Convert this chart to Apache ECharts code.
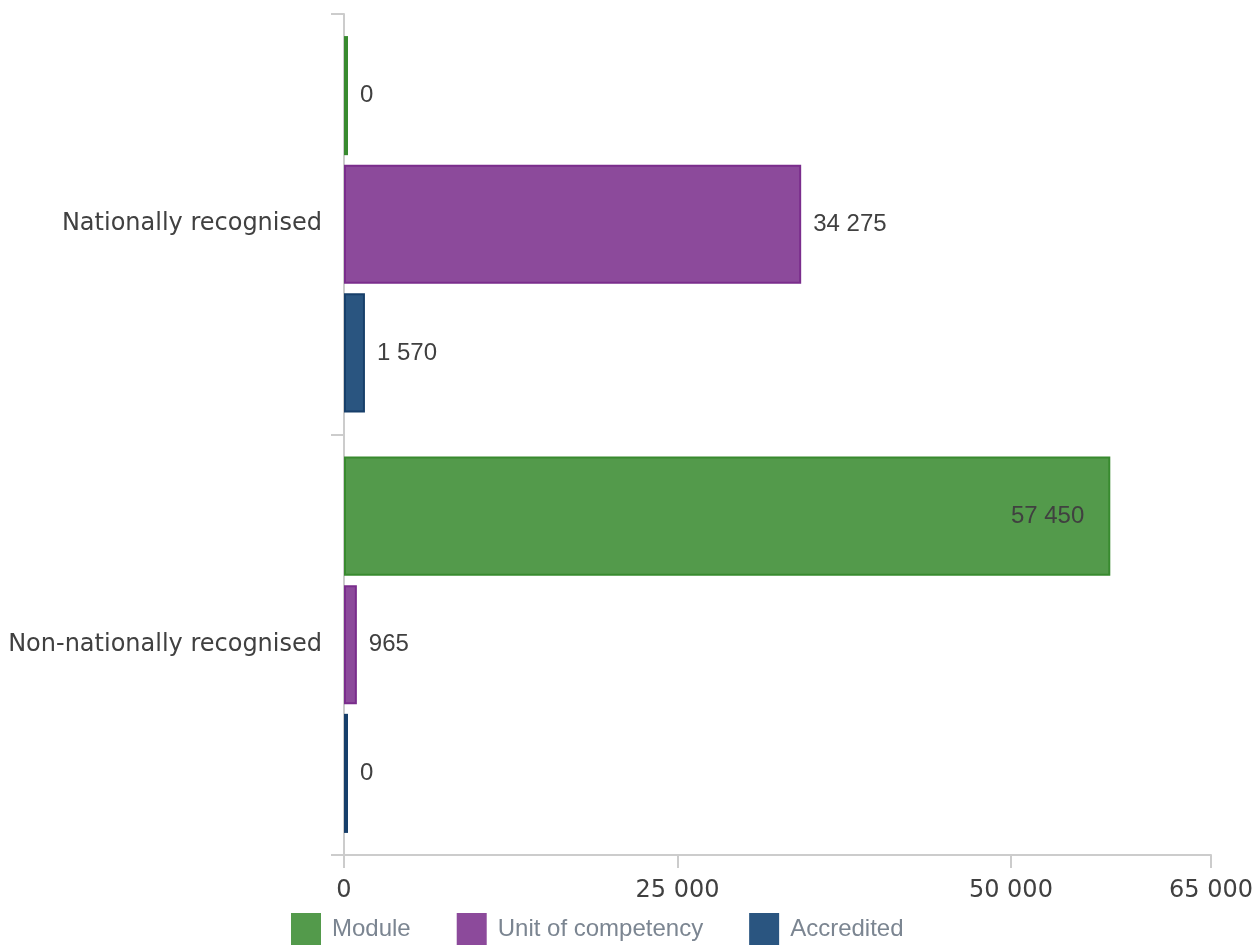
<!DOCTYPE html>
<html>
<head>
<meta charset="utf-8">
<script src="https://cdn.jsdelivr.net/npm/echarts@6/dist/echarts.min.js"></script>
<style>
html,body{margin:0;padding:0;background:#fff;}
#chart{width:1258px;height:945px;}
</style>
</head>
<body>
<div id="chart"></div>
<script>
const categories = ['Nationally recognised', 'Non-nationally recognised'];
const seriesNames = ['Module', 'Unit of competency', 'Accredited'];
const moduleValues = [0, 57450];
const unitValues = [34275, 965];
const accreditedValues = [1570, 0];
const xTicks = [0, 25000, 50000, 65000];

const fills = ['#539a4b', '#8c4a9b', '#2a5580'];
const borders = ['#388a2f', '#7a2d8c', '#173f6a'];

function fmt(v) {
  return String(v).replace(/\B(?=(\d{3})+(?!\d))/g, ' ');
}

const chart = echarts.init(document.getElementById('chart'));

function makeSeries(name, values, i) {
  return {
    name: name,
    type: 'bar',
    barGap: '8%',
    barCategoryGap: '10.5%',
    barMinHeight: 4,
    itemStyle: { color: fills[i], borderColor: borders[i], borderWidth: 2 },
    data: values.map(v => ({
      value: v,
      label: v > 50000 ? { position: 'insideRight', distance: 26 } : { position: 'right', distance: 12 }
    })),
    label: {
      show: true,
      fontFamily: '"Liberation Sans", Arial, sans-serif',
      fontSize: 24,
      color: '#404040',
      formatter: p => fmt(p.value)
    }
  };
}

chart.setOption({
  animation: false,
  grid: { left: 344, right: 47, top: 14, bottom: 90, containLabel: false },
  legend: {
    left: 291,
    bottom: 0,
    padding: 0,
    itemWidth: 30,
    itemHeight: 32,
    itemGap: 46,
    icon: 'rect',
    itemStyle: { borderWidth: 0 },
    textStyle: { fontFamily: '"Liberation Sans", Arial, sans-serif', fontSize: 24, color: '#7b8591', padding: [0, 0, 0, 6] },
    data: seriesNames
  },
  xAxis: {
    type: 'value',
    min: xTicks[0],
    max: xTicks[xTicks.length - 1],
    interval: xTicks[1] - xTicks[0],
    axisLine: { show: true, lineStyle: { color: '#cccccc', width: 2 } },
    axisTick: { show: true, length: 13, lineStyle: { color: '#cccccc', width: 2 } },
    splitLine: { show: false },
    axisLabel: {
      margin: 24,
      fontFamily: '"DejaVu Sans", sans-serif',
      fontSize: 24,
      color: '#404040',
      showMaxLabel: true,
      formatter: v => fmt(v)
    }
  },
  yAxis: {
    type: 'category',
    inverse: true,
    data: categories,
    axisLine: { show: true, lineStyle: { color: '#cccccc', width: 2 } },
    axisTick: { show: true, length: 13, lineStyle: { color: '#cccccc', width: 2 } },
    axisLabel: {
      margin: 22,
      fontFamily: '"DejaVu Sans", sans-serif',
      fontSize: 24,
      color: '#404040'
    }
  },
  series: [
    makeSeries(seriesNames[0], moduleValues, 0),
    makeSeries(seriesNames[1], unitValues, 1),
    makeSeries(seriesNames[2], accreditedValues, 2)
  ]
});
</script>
</body>
</html>
